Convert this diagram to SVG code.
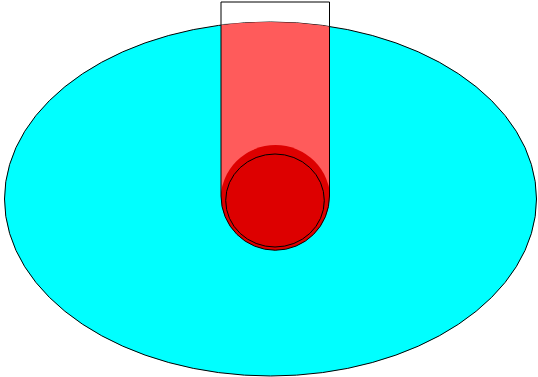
<svg xmlns="http://www.w3.org/2000/svg" width="538" height="377" viewBox="0 0 538 377">
<style>
.ol{stroke:#000;stroke-width:1;}
</style>
<defs>
<clipPath id="ellClip"><ellipse cx="270.5" cy="199" rx="266" ry="177"/></clipPath>
<clipPath id="tubeClip"><path d="M221,2 H329.5 V196 A54.25,54.25 0 0 1 221,196 Z"/></clipPath>
</defs>
<rect width="538" height="377" fill="#fff"/>
<g id="body">
<ellipse cx="270.5" cy="199" rx="266" ry="177" fill="#00FFFF" class="ol"/>
</g>
<g id="tube">
<path d="M221,2 H329.5 V196 A54.25,54.25 0 0 1 221,196 Z" fill="#FF5B5B" clip-path="url(#ellClip)"/>
<g clip-path="url(#tubeClip)">
<circle cx="275.5" cy="200" r="55" fill="#DD0000"/>
</g>
<path d="M221,2 H329.5 V196 A54.25,54.25 0 0 1 221,196 Z" fill="none" class="ol"/>
</g>
<g id="ball">
<ellipse cx="275" cy="200.5" rx="49.3" ry="46.5" fill="#DD0000" class="ol"/>
</g>
<g id="connectors"/>
</svg>
